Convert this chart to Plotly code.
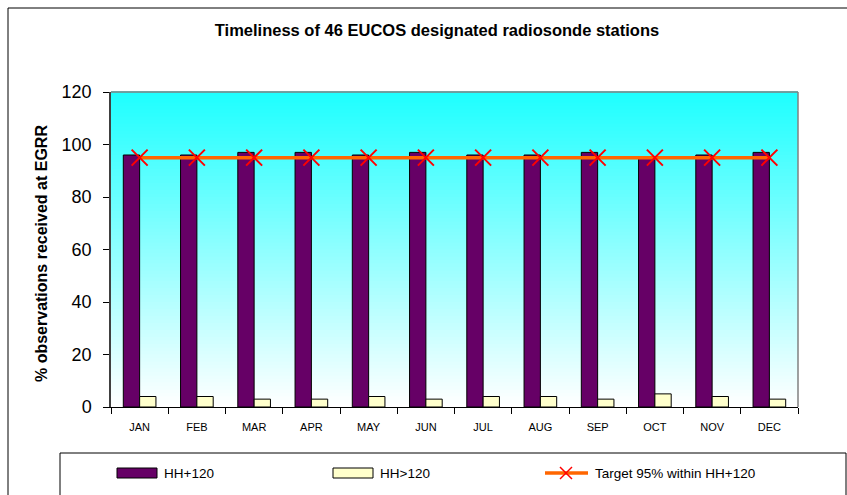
import plotly.graph_objects as go

# Monthly timeliness figures
months = ["JAN", "FEB", "MAR", "APR", "MAY", "JUN",
          "JUL", "AUG", "SEP", "OCT", "NOV", "DEC"]
within_120 = [96, 96, 97, 97, 96, 97, 96, 96, 97, 95, 96, 97]
after_120 = [4, 4, 3, 3, 4, 3, 4, 4, 3, 5, 4, 3]
target_pct = 95
target = [target_pct] * len(months)

W, H = 847, 495
ML, MR, MT, MB = 111, 49, 92, 88
PW, PH = W - ML - MR, H - MT - MB
FONT = "Arial, Liberation Sans, sans-serif"


def px(x):
    return (x - ML) / PW


def py(y):
    return (H - MB - y) / PH


fig = go.Figure()
fig.add_trace(go.Bar(
    x=months, y=within_120, name="HH+120",
    marker=dict(color="#660066", line=dict(color="black", width=1)),
))
fig.add_trace(go.Bar(
    x=months, y=after_120, name="HH>120",
    marker=dict(color="#FFFFCC", line=dict(color="black", width=1)),
))
fig.add_trace(go.Scatter(
    x=months, y=target, mode="lines+markers",
    name="Target 95% within HH+120",
    line=dict(color="#FF6600", width=3.5),
    marker=dict(symbol="x-thin", size=16, line=dict(color="#FF0000", width=2), color="#FF0000"),
))

shapes = []
# vertical cyan-to-white gradient behind the bars
n = 90
for i in range(n):
    f = i / (n - 1)
    r = int(round(30 + (255 - 30) * (1 - f)))
    shapes.append(dict(
        type="rect", xref="x domain", yref="y domain",
        x0=0, x1=1, y0=i / n, y1=(i + 1) / n + 0.002,
        fillcolor=f"rgb({r},255,255)", line=dict(width=0), layer="below",
    ))
# grey top/right border of the plot area
shapes.append(dict(type="line", xref="x domain", yref="y domain", x0=0, x1=1, y0=1, y1=1,
                   line=dict(color="#808080", width=1.5)))
shapes.append(dict(type="line", xref="x domain", yref="y domain", x0=1, x1=1, y0=0, y1=1,
                   line=dict(color="#808080", width=1.5)))
# outer chart frame
shapes.append(dict(type="rect", xref="paper", yref="paper",
                   x0=px(8), x1=px(852), y0=py(500), y1=py(8),
                   line=dict(color="black", width=1), fillcolor="rgba(0,0,0,0)"))
# legend box
shapes.append(dict(type="rect", xref="paper", yref="paper",
                   x0=px(60), x1=px(846), y0=py(500), y1=py(453),
                   line=dict(color="black", width=1), fillcolor="white"))
# legend keys
ly = 473
shapes.append(dict(type="rect", xref="paper", yref="paper",
                   x0=px(117), x1=px(157), y0=py(478), y1=py(468),
                   fillcolor="#660066", line=dict(color="black", width=1)))
shapes.append(dict(type="rect", xref="paper", yref="paper",
                   x0=px(333), x1=px(373), y0=py(478), y1=py(468),
                   fillcolor="#FFFFCC", line=dict(color="black", width=1)))
shapes.append(dict(type="line", xref="paper", yref="paper",
                   x0=px(545), x1=px(588), y0=py(ly), y1=py(ly),
                   line=dict(color="#FF6600", width=3.5)))
for a, b in ((-6, -6), (-6, 6)):
    shapes.append(dict(type="line", xref="paper", yref="paper",
                       x0=px(566 + a), x1=px(566 - a), y0=py(ly + b), y1=py(ly - b),
                       line=dict(color="#FF0000", width=1.5)))

annotations = [
    dict(text="% observations received at EGRR", xref="paper", yref="paper",
         x=px(42), y=py(254), textangle=-90, showarrow=False,
         font=dict(family=FONT, size=16, color="black", weight="bold"),
         xanchor="center", yanchor="middle"),
]
for x0, label in ((162, "HH+120"), (378, "HH>120"), (593, "Target 95% within HH+120")):
    annotations.append(dict(text=label, xref="paper", yref="paper",
                            x=px(x0), y=py(ly), showarrow=False,
                            xanchor="left", yanchor="middle",
                            font=dict(family=FONT, size=13.5, color="black")))

fig.update_layout(
    width=W, height=H,
    margin=dict(l=ML, r=MR, t=MT, b=MB),
    paper_bgcolor="white", plot_bgcolor="white",
    barmode="group", bargap=0.43, bargroupgap=0,
    showlegend=False,
    title=dict(text="<b>Timeliness of 46 EUCOS designated radiosonde stations</b>",
               x=437 / W, xanchor="center", xref="container",
               y=1 - 30 / H, yanchor="middle", yref="container",
               font=dict(family=FONT, size=16.5, color="black")),
    xaxis=dict(
        range=[-0.5, 11.5], showgrid=False, showline=True, linecolor="black", linewidth=1,
        ticks="outside", tickson="boundaries", ticklen=6, tickcolor="black",
        tickfont=dict(family=FONT, size=11, color="black"), ticklabelstandoff=10,
        zeroline=False,
    ),
    yaxis=dict(
        range=[0, 120], dtick=20, showgrid=False, showline=True, linecolor="#404040",
        linewidth=1.5, ticks="outside", ticklen=6, tickcolor="black",
        tickfont=dict(family=FONT, size=18, color="black"), ticklabelstandoff=8,
        zeroline=False,
    ),
    shapes=shapes,
    annotations=annotations,
)

fig.write_html("out.html")
